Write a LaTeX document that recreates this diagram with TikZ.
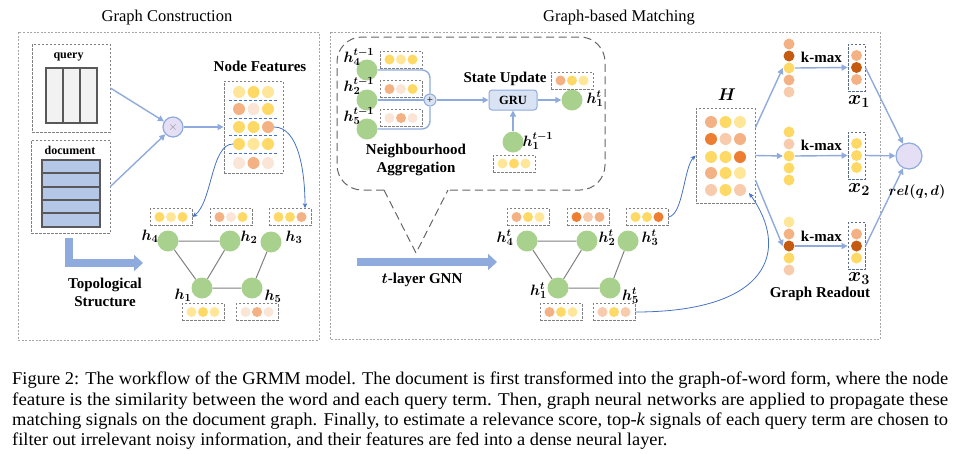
\documentclass[tikz,border=0pt]{standalone}
\usepackage{fontspec}
\setmainfont{Liberation Serif}
\usepackage{bm}
\usetikzlibrary{arrows.meta,calc}
% scalable math italic
\DeclareFontShape{OML}{cmm}{m}{it}{<->cmmi10}{}
\DeclareFontShape{OML}{cmm}{b}{it}{<->cmmib10}{}
\DeclareFontShape{OMS}{cmsy}{m}{n}{<->cmsy10}{}
\DeclareFontShape{OMS}{cmsy}{b}{n}{<->cmbsy10}{}

\definecolor{ylw}{HTML}{FFD966}
\definecolor{lyl}{HTML}{FFE699}
\definecolor{org}{HTML}{F4B183}
\definecolor{pal}{HTML}{FBE5D6}
\definecolor{pok}{HTML}{F8CBAD}
\definecolor{dor}{HTML}{ED7D31}
\definecolor{brn}{HTML}{C55A11}
\definecolor{grn}{HTML}{A9D18E}
\definecolor{arrb}{HTML}{8FAADC}
\definecolor{cbl}{HTML}{4472C4}
\definecolor{gru}{HTML}{DAE3F3}
\definecolor{qgray}{HTML}{F2F2F2}
\definecolor{dblue}{HTML}{B4C7E7}
\definecolor{lav}{HTML}{E4DFF5}
\definecolor{slate}{HTML}{5B6B8A}

% three dots in a row: centre, gap, radius, colours
\newcommand{\dotrow}[6]{%
  \fill[#4] ($(#1)+(-#2,0)$) circle (#3pt);
  \fill[#5] (#1) circle (#3pt);
  \fill[#6] ($(#1)+(#2,0)$) circle (#3pt);}
% dots in a column: node, first offset, colours
\newcommand{\dotcol}[3]{%
  \foreach \c [count=\i] in {#3} {\fill[\c] ($(#1)+(0,#2+\i*12)$) circle (5.5pt);}}

\begin{document}
\begin{tikzpicture}[x=1pt,y=-1pt,
    frame/.style={draw=black!35, dash pattern=on 2pt off 1.5pt, line width=0.6pt},
    gbox/.style={draw=black!50, dash pattern=on 2.5pt off 1.5pt, line width=0.8pt, inner sep=0pt},
    fbox/.style={gbox, minimum width=42pt, minimum height=17pt},
    xbox/.style={gbox, draw=slate, minimum width=17pt, minimum height=47pt},
    colnode/.style={inner sep=0pt, minimum width=12pt, minimum height=60pt},
    gnode/.style={circle, fill=grn, minimum size=21pt, inner sep=0pt},
    lab/.style={font=\fontsize{15}{18}\selectfont\bfseries, align=center, inner sep=0pt},
    small/.style={font=\fontsize{12}{14}\selectfont\bfseries, inner sep=0pt},
    hlab/.style={font=\fontsize{15}{18}\selectfont, inner sep=0pt},
    xlab/.style={font=\fontsize{20}{22}\selectfont, inner sep=0pt, anchor=base},
    title/.style={font=\fontsize{16.5}{20}\selectfont, inner sep=0pt},
    edge/.style={draw=black!50, line width=1pt},
    flow/.style={draw=arrb, line width=1.4pt},
    flowto/.style={flow, -{Triangle[length=6pt,width=6pt]}},
    fat/.style={draw=arrb, line width=8pt, -{Triangle[length=9pt,width=16pt]}},
    link/.style={draw=cbl, line width=0.8pt, -{Stealth[length=5pt,width=4.5pt]}},
    callout/.style={draw=black!60, dash pattern=on 8pt off 4.5pt, line width=1pt},
    tab/.style={draw=black!65, line width=1.2pt},
    capline/.style={font=\fontsize{18}{21}\selectfont, anchor=base west, inner sep=0pt}]
  \useasboundingbox (0,0) rectangle (971,453);

  % graph construction
  \node[title] (tgc) at (167,18) {Graph Construction};
  \draw[frame] (18,32) rectangle (319,340);

  \node[gbox, minimum width=78pt, minimum height=88pt] (qbox) at (71,88) {};
  \node[small] (qlab) at (68.5,57) {query};
  \draw[tab, fill=qgray] (46,68) rectangle (97,123);
  \foreach \x in {63,80} {\draw[tab] (\x,68) -- (\x,123);}

  \node[gbox, minimum width=79pt, minimum height=93pt] (dbox) at (70.5,186.5) {};
  \node[small] (dlab) at (70,150) {document};
  \draw[tab, fill=dblue] (42,160) rectangle (100,227);
  \foreach \y in {173,187,200,213} {\draw[tab] (42,\y) -- (100,\y);}

  \node[circle, draw=arrb, fill=lav, minimum size=20pt, inner sep=0pt, line width=1.2pt,
        text=black!45, font=\fontsize{12}{12}\selectfont] (mul) at (173,127) {$\times$};
  \node[lab] (nflab) at (260,66) {Node Features};
  \node[gbox, minimum width=59pt, minimum height=92pt] (nf) at (253.5,127) {};
  \foreach \y/\a/\b/\c in {92/lyl/ylw/lyl, 109/org/pal/ylw, 127/ylw/ylw/org, 144/ylw/lyl/ylw, 163/pal/org/pal}
    {\dotrow{253.5,\y}{14.5}{6}{\a}{\b}{\c}}
  \foreach \y in {100.5,118,135.5,153.5} {\draw[cbl, dash pattern=on 3pt off 2pt, line width=0.8pt] (229,\y) -- (278,\y);}

  \draw[flowto] (qbox.east) -- (mul);
  \draw[flowto] (dbox.east) -- (mul);
  \draw[flowto] (mul) -- (nf);

  \node[gnode] (h4) at (168,241) {};
  \node[gnode] (h2) at (230,241) {};
  \node[gnode] (h3) at (271,242) {};
  \node[gnode] (h1) at (202,288) {};
  \node[gnode] (h5) at (252,288) {};
  \draw[edge] (h4) -- (h2) (h4) -- (h1) (h2) -- (h1) (h1) -- (h5) (h5) -- (h3);
  \node[hlab] (l4) at (150,236) {$\bm{h_4}$};
  \node[hlab] (l2) at (249,237) {$\bm{h_2}$};
  \node[hlab] (l3) at (294,237) {$\bm{h_3}$};
  \node[hlab] (l1) at (183,295) {$\bm{h_1}$};
  \node[hlab] (l5) at (273,296) {$\bm{h_5}$};

  \node[fbox] (h4f) at (171,217) {}; \dotrow{h4f}{11.5}{5}{ylw}{lyl}{ylw}
  \node[fbox] (h2f) at (231,217) {}; \dotrow{h2f}{11.5}{5}{org}{pal}{ylw}
  \node[fbox] (h3f) at (290,217) {}; \dotrow{h3f}{11.5}{5}{ylw}{ylw}{org}
  \node[fbox] (h1f) at (203,312) {}; \dotrow{h1f}{11.5}{5}{lyl}{ylw}{lyl}
  \node[fbox] (h5f) at (257,312) {}; \dotrow{h5f}{11.5}{5}{pal}{org}{pal}

  \coordinate (r3) at (274,127);
  \coordinate (r4) at (233,144);
  \draw[link] (r3) .. controls +(25,0) and +(0,-35) .. ([xshift=15pt]h3f.north);
  \draw[link] (r4) .. controls +(-22,0) and +(20,-15) .. (h4f.east);

  \coordinate (tbeg) at (69,238);
  \coordinate (tend) at (143,263);
  \draw[fat] (tbeg) |- (tend);
  \node[lab] (topo) at (105,292) {Topological\\Structure};

  % graph-based matching
  \node[title] (tgm) at (619,18) {Graph-based Matching};
  \draw[frame] (330,32) rectangle (880,339);

  \draw[callout, rounded corners=25pt] (384,190) -- (337,190) -- (337,37) -- (605,37) -- (605,190) -- (448,190);
  \draw[callout] (384,190) -- (416,253) -- (448,190);

  \node[gnode] (cp4) at (367,70) {};
  \node[gnode] (cp2) at (367,100) {};
  \node[gnode] (cp5) at (367,129) {};
  \node[fbox] (cp4f) at (401,59.5) {}; \dotrow{cp4f}{11.5}{5}{ylw}{lyl}{ylw}
  \node[fbox] (cp2f) at (401,89) {}; \dotrow{cp2f}{11.5}{5}{org}{pal}{ylw}
  \node[fbox] (cp5f) at (401,118) {}; \dotrow{cp5f}{11.5}{5}{pal}{org}{pal}
  \node[hlab] (lp4) at (359,57) {$\bm{h_4^{t-1}}$};
  \node[hlab] (lp2) at (359,86) {$\bm{h_2^{t-1}}$};
  \node[hlab] (lp5) at (359,116) {$\bm{h_5^{t-1}}$};

  \node[circle, draw=arrb, fill=gru, minimum size=12pt, inner sep=0pt, line width=1pt,
        font=\fontsize{11}{11}\selectfont] (plus) at (430,100) {+};
  \draw[flow, rounded corners=8pt] (cp4.east) -| (plus.north);
  \draw[flow] (cp2.east) -- (plus.west);
  \draw[flow, rounded corners=8pt] (cp5.east) -| (plus.south);

  \node[draw=arrb, fill=gru, rounded corners=3pt, minimum width=48pt, minimum height=20pt, line width=1pt,
        font=\fontsize{12.5}{15}\selectfont\bfseries] (gru) at (513,100) {GRU};
  \node[gnode] (cu1) at (572,100) {};
  \node[hlab] (lu1) at (595,99) {$\bm{h_1^t}$};
  \node[lab] (state) at (505,79) {State Update};
  \node[fbox] (cu1f) at (572,80.5) {}; \dotrow{cu1f}{11.5}{5}{org}{ylw}{lyl}
  \node[gnode] (cp1) at (513,142) {};
  \node[hlab] (lp1) at (538,141) {$\bm{h_1^{t-1}}$};
  \node[fbox] (cp1f) at (514,163.5) {}; \dotrow{cp1f}{11.5}{5}{lyl}{ylw}{lyl}
  \draw[flowto] (plus.east) -- (gru.west);
  \draw[flowto] (gru.east) -- (cu1.west);
  \draw[flowto] (cp1.north) -- (gru.south);
  \node[lab] (agg) at (416,160) {Neighbourhood\\Aggregation};

  \coordinate (gbeg) at (357,262);
  \coordinate (gend) at (497,262);
  \draw[fat] (gbeg) -- (gend);
  \node[lab] (gnn) at (422,280) {$\bm{t}$-layer GNN};

  \node[gnode] (g4) at (527,241) {};
  \node[gnode] (g2) at (587,241) {};
  \node[gnode] (g3) at (628,241) {};
  \node[gnode] (g1) at (558,288) {};
  \node[gnode] (g5) at (610,288) {};
  \draw[edge] (g4) -- (g2) (g4) -- (g1) (g2) -- (g1) (g1) -- (g5) (g5) -- (g3);
  \node[hlab, anchor=base] (lg4) at (505,242) {$\bm{h_4^t}$};
  \node[hlab, anchor=base] (lg2) at (607,242) {$\bm{h_2^t}$};
  \node[hlab, anchor=base] (lg3) at (650,242) {$\bm{h_3^t}$};
  \node[hlab, anchor=base] (lg1) at (538.5,295) {$\bm{h_1^t}$};
  \node[hlab, anchor=base] (lg5) at (630.5,300) {$\bm{h_5^t}$};

  \node[fbox] (g4f) at (528,217) {}; \dotrow{g4f}{11.5}{5}{org}{ylw}{lyl}
  \node[fbox] (g2f) at (588,217) {}; \dotrow{g2f}{11.5}{5}{dor}{pok}{org}
  \node[fbox] (g3f) at (647,217) {}; \dotrow{g3f}{11.5}{5}{ylw}{ylw}{dor}
  \node[fbox] (g1f) at (561,312) {}; \dotrow{g1f}{11.5}{5}{org}{ylw}{lyl}
  \node[fbox] (g5f) at (614,312) {}; \dotrow{g5f}{11.5}{5}{pok}{ylw}{pok}

  \node[lab, font=\fontsize{17}{20}\selectfont] (Hlab) at (727,95) {$\bm{H}$};
  \node[gbox, minimum width=59pt, minimum height=95pt] (Hbox) at (725.5,155.5) {};
  \foreach \y/\a/\b/\c in {122/org/ylw/lyl, 139/dor/pok/org, 157/ylw/ylw/dor, 173/org/ylw/lyl, 190/pok/ylw/pok}
    {\dotrow{725.5,\y}{14.5}{6}{\a}{\b}{\c}}

  \coordinate (Hin) at (749,193);
  \draw[link] (g3f.east) .. controls +(15,-2) and +(-12,12) .. (Hbox.west);
  \draw[link] (g5f.east) .. controls (770,312) and (790,250) .. (Hin);

  \node[colnode] (col1) at (789,68) {};  \dotcol{col1}{-36}{org,brn,ylw,org,pok}
  \node[colnode] (col2) at (789,156) {}; \dotcol{col2}{-36}{ylw,pok,ylw,ylw,ylw}
  \node[colnode] (col3) at (789,246) {}; \dotcol{col3}{-36}{lyl,org,brn,ylw,pok}
  \draw[flowto] ([yshift=28pt]Hbox.east) -- (col1.west);
  \draw[flowto] (Hbox.east) -- (col2.west);
  \draw[flowto] ([yshift=-24.5pt]Hbox.east) -- (col3.west);

  \node[xbox] (x1b) at (856.5,67.5) {}; \dotcol{x1b}{-24}{org,brn,org}
  \node[xbox] (x2b) at (856.5,155.5) {}; \dotcol{x2b}{-24}{ylw,ylw,ylw}
  \node[xbox] (x3b) at (856.5,246) {}; \dotcol{x3b}{-24}{org,brn,ylw}
  \draw[flowto] (col1.east) -- node[lab, above=4pt] (k1) {k-max} (x1b.west);
  \draw[flowto] (col2.east) -- node[lab, above=4pt] (k2) {k-max} (x2b.west);
  \draw[flowto] (col3.east) -- node[lab, above=4pt] (k3) {k-max} (x3b.west);
  \node[xlab] (x1l) at (859,104) {$\bm{x_1}$};
  \node[xlab] (x2l) at (859,192) {$\bm{x_2}$};
  \node[xlab] (x3l) at (859,281) {$\bm{x_3}$};

  \node[circle, draw=arrb, fill=lav, minimum size=26pt, inner sep=0pt, line width=1.2pt] (rel) at (909,156) {};
  \draw[flowto] (x1b.east) -- (rel);
  \draw[flowto] (x2b.east) -- (rel);
  \draw[flowto] (x3b.east) -- (rel);
  \node[hlab, font=\fontsize{14}{16}\selectfont] (rell) at (917,192) {$\bm{rel(q,d)}$};
  \node[lab] (ro) at (820,294) {Graph Readout};

  % caption
  \node[capline] (cap1) at (12,384) {\resizebox{936pt}{\height}{Figure 2: The workflow of the GRMM model. The document is first transformed into the graph-of-word form, where the node}};
  \node[capline] (cap2) at (12,405) {\resizebox{936pt}{\height}{feature is the similarity between the word and each query term. Then, graph neural networks are applied to propagate these}};
  \node[capline] (cap3) at (12,425) {\resizebox{936pt}{\height}{matching signals on the document graph. Finally, to estimate a relevance score, top-\textit{k} signals of each query term are chosen to}};
  \node[capline] (cap4) at (12,445) {\resizebox{655pt}{\height}{filter out irrelevant noisy information, and their features are fed into a dense neural layer.}};
\end{tikzpicture}
\end{document}
